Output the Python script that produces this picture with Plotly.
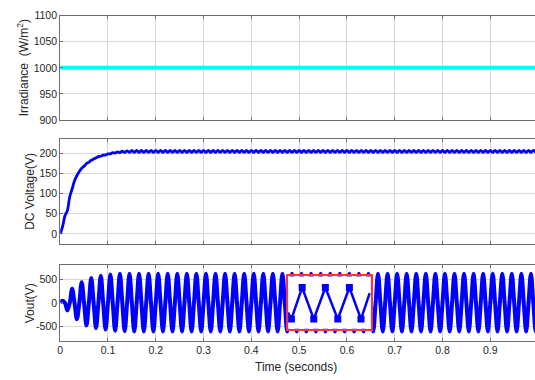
import numpy as np
import plotly.graph_objects as go

# ---------------- data ----------------
# irradiance input (W/m^2)
irr_t = [0.0, 1.0]
irr_v = [1000, 1000]

# DC link voltage, sampled every 5 ms (ripple peaks/troughs)
dc_step = 0.005
dc_transient = [0, 18, 45, 58, 92, 112, 132, 145, 155, 163, 168, 175, 178, 183,
                186, 189, 192, 193, 196, 196, 199, 199, 202, 201, 204, 202,
                205.5, 202.5, 206.5, 202.5]
dc_steady_pair = [207.5, 202.5]          # settled ripple, repeated to t = 0.995 s
dc_v = dc_transient + dc_steady_pair * 85

# inverter output voltage: signed peak of each 10 ms half cycle (50 Hz)
vout_transient = [45, -160, 300, -345, 440, -480, 530, -535, 575, -565,
                  605, -590, 620, -600]
vout_steady_pair = [622, -606]
vout_half_peaks = vout_transient + vout_steady_pair * 43

# zoomed detail of the output waveform (normalised inset coordinates)
inset_x = [0.0, 0.04, 0.17, 0.31, 0.45, 0.60, 0.74, 0.88, 0.985]
inset_y = [0.31, 0.185, 0.79, 0.185, 0.79, 0.185, 0.79, 0.185, 0.68]
inset_peak_x = [0.04, 0.17, 0.31, 0.45, 0.60, 0.74, 0.88]
inset_peak_y = [0.185, 0.79, 0.185, 0.79, 0.185, 0.79, 0.185]

# ticks
x_ticks = [0, 0.1, 0.2, 0.3, 0.4, 0.5, 0.6, 0.7, 0.8, 0.9]
x_ticktext = ["0", "0.1", "0.2", "0.3", "0.4", "0.5", "0.6", "0.7", "0.8", "0.9"]
irr_ticks = [900, 950, 1000, 1050, 1100]
dc_ticks = [0, 50, 100, 150, 200]
vout_ticks = [-500, 0, 500]
vout_ticktext = ["-500", "0", "500"]

# ---------------- derived series ----------------
dc_t = np.arange(len(dc_v)) * dc_step

vout_t = [0.0]
vout_v = [0.0]
for k, p in enumerate(vout_half_peaks):
    vout_t += [0.005 + 0.01 * k, 0.01 * (k + 1)]
    vout_v += [p, 0.0]

# ---------------- figure ----------------
W, H = 535, 380
FONT = "Liberation Sans, Arial, sans-serif"
TXT = "#262626"
GRID = "#d6d6d6"
AX = "#6e6e6e"

x0 = 57.5 / W
xr = [0, 0.9935]

def py(pix):
    return 1 - pix / H

dom_top = [py(117.7), py(10)]
dom_mid = [py(245.3), py(137.7)]
dom_bot = [py(345.5), py(267.7)]

fig = go.Figure()

fig.add_trace(go.Scatter(x=irr_t, y=irr_v, mode="lines",
                         line=dict(color="#00ffff", width=4),
                         xaxis="x", yaxis="y", showlegend=False))
fig.add_trace(go.Scatter(x=dc_t, y=dc_v, mode="lines",
                         line=dict(color="#0000ff", width=2.8, shape="spline"),
                         xaxis="x2", yaxis="y2", showlegend=False))
fig.add_trace(go.Scatter(x=vout_t, y=vout_v, mode="lines",
                         line=dict(color="#0000ff", width=4, shape="spline"),
                         xaxis="x3", yaxis="y3", showlegend=False))
fig.add_trace(go.Scatter(x=inset_x, y=inset_y, mode="lines",
                         line=dict(color="#0000ff", width=2.5),
                         xaxis="x4", yaxis="y4", showlegend=False))
fig.add_trace(go.Scatter(x=inset_peak_x, y=inset_peak_y, mode="markers",
                         marker=dict(color="#0000ff", symbol="square", size=7),
                         xaxis="x4", yaxis="y4", showlegend=False))

common_x = dict(domain=[x0, 1], range=xr, tickvals=x_ticks, ticktext=x_ticktext,
                showgrid=True, gridcolor=GRID, gridwidth=1, zeroline=False,
                showline=True, linecolor=AX, linewidth=1, mirror="allticks",
                ticks="inside", ticklen=3, tickcolor=AX,
                tickfont=dict(family=FONT, size=10.5, color=TXT))
common_y = dict(showgrid=True, gridcolor=GRID, gridwidth=1, zeroline=False,
                showline=True, linecolor=AX, linewidth=1, mirror=False,
                ticks="inside", ticklen=3, tickcolor=AX,
                tickfont=dict(family=FONT, size=10.5, color=TXT))

fig.update_layout(
    width=W, height=H,
    margin=dict(l=0, r=0, t=0, b=0),
    paper_bgcolor="white", plot_bgcolor="white",
    xaxis=dict(common_x, anchor="y", showticklabels=False),
    yaxis=dict(common_y, domain=dom_top, anchor="x", range=[900, 1100],
               tickvals=irr_ticks),
    xaxis2=dict(common_x, anchor="y2", showticklabels=False),
    yaxis2=dict(common_y, domain=dom_mid, anchor="x2", range=[-24, 235],
                tickvals=dc_ticks),
    xaxis3=dict(common_x, anchor="y3", showticklabels=True),
    yaxis3=dict(common_y, domain=dom_bot, anchor="x3", range=[-800, 800],
                tickvals=vout_ticks, ticktext=vout_ticktext),
    xaxis4=dict(domain=[286.7 / W, 370 / W], anchor="y4", range=[0, 1],
                showgrid=False, zeroline=False, showticklabels=False, ticks="",
                showline=True, linecolor="#ff3333", linewidth=1.5, mirror=True),
    yaxis4=dict(domain=[py(333.3), py(279.3)], anchor="x4", range=[0, 1],
                showgrid=False, zeroline=False, showticklabels=False, ticks="",
                showline=True, linecolor="#ff3333", linewidth=1.5, mirror=True),
)

title_font = dict(family=FONT, size=12, color=TXT)
fig.add_annotation(text="Irradiance  (W/m<sup>2</sup>)", textangle=-90,
                   xref="paper", yref="paper", x=20.5 / W, y=py(64),
                   xanchor="center", yanchor="middle", showarrow=False,
                   font=title_font)
fig.add_annotation(text="DC Voltage(V)", textangle=-90,
                   xref="paper", yref="paper", x=27.5 / W, y=py(191.5),
                   xanchor="center", yanchor="middle", showarrow=False,
                   font=title_font)
fig.add_annotation(text="Vout(V)", textangle=-90,
                   xref="paper", yref="paper", x=27.5 / W, y=py(306.6),
                   xanchor="center", yanchor="middle", showarrow=False,
                   font=title_font)
fig.add_annotation(text="Time (seconds)",
                   xref="paper", yref="paper", x=295 / W, y=py(372.5),
                   xanchor="center", yanchor="middle", showarrow=False,
                   font=title_font)

fig.write_html("out.html")
